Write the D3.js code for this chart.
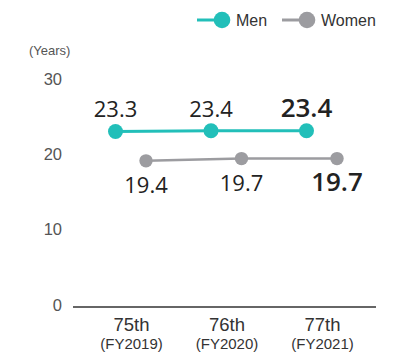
<!DOCTYPE html>
<html>
<head>
<meta charset="utf-8">
<script src="https://cdn.jsdelivr.net/npm/d3@7"></script>
<style>
  html, body { margin: 0; padding: 0; background: #fff; }
  svg { display: block; }
</style>
</head>
<body>
<svg id="chart" width="417" height="356"></svg>
<script>
// Average length of service by fiscal term
const categories = ["75th", "76th", "77th"];
const fiscalYears = ["(FY2019)", "(FY2020)", "(FY2021)"];
const menValues = [23.3, 23.4, 23.4];
const womenValues = [19.4, 19.7, 19.7];
const yTicks = [0, 10, 20, 30];
const seriesNames = ["Men", "Women"];

const colors = { Men: "#22bfb9", Women: "#9c9ca0" };
const svg = d3.select("#chart");
const sans = "'Liberation Sans', Arial, sans-serif";
const valueFont = "'Open Sans', 'Noto Sans', sans-serif";

const x = d3.scalePoint().domain(categories).range([131, 322]);
const y = d3.scaleLinear().domain([0, 30]).range([307, 81]);
const offset = { Men: -15.5, Women: 15 };

// y-axis labels (no axis line)
const yAxis = d3.axisLeft(y).tickValues(yTicks).tickSize(0).tickPadding(0);
const gy = svg.append("g").attr("transform", "translate(62,0)").call(yAxis);
gy.select(".domain").remove();
gy.selectAll("text")
  .attr("font-family", sans).attr("font-size", 16.5).attr("fill", "#555")
  .attr("dy", "0.2em");

svg.append("text").text("(Years)")
  .attr("x", 29).attr("y", 55)
  .attr("font-family", sans).attr("font-size", 13).attr("fill", "#555");

// baseline
svg.append("line")
  .attr("x1", 73).attr("x2", 376).attr("y1", y(0)).attr("y2", y(0))
  .attr("stroke", "#333").attr("stroke-width", 1.5);

// category labels
const xAxis = d3.axisBottom(x).tickSize(0).tickPadding(0);
const gx = svg.append("g").attr("transform", `translate(0,${y(0)})`).call(xAxis);
gx.select(".domain").remove();
gx.selectAll("text").remove();
gx.selectAll(".tick").append("text")
  .attr("text-anchor", "middle").attr("y", 24)
  .attr("font-family", sans).attr("font-size", 18.5).attr("fill", "#333")
  .text(d => d);
gx.selectAll(".tick").append("text")
  .attr("text-anchor", "middle").attr("y", 42)
  .attr("font-family", sans).attr("font-size", 15).attr("fill", "#333")
  .text((d, i) => fiscalYears[i]);

function drawSeries(name, values, stroke, r, labelDy) {
  const pts = values.map((v, i) => ({ c: categories[i], v, i }));
  const line = d3.line().x(d => x(d.c) + offset[name]).y(d => y(d.v));
  svg.append("path").datum(pts)
    .attr("d", line).attr("fill", "none")
    .attr("stroke", colors[name]).attr("stroke-width", stroke);
  svg.selectAll(null).data(pts).enter().append("circle")
    .attr("cx", d => x(d.c) + offset[name]).attr("cy", d => y(d.v))
    .attr("r", r).attr("fill", colors[name]);
  svg.selectAll(null).data(pts).enter().append("text")
    .attr("x", d => x(d.c) + offset[name])
    .attr("y", d => y(d.v) + labelDy)
    .attr("text-anchor", "middle")
    .attr("font-family", valueFont)
    .attr("font-size", d => d.i === pts.length - 1 ? 26 : 22)
    .attr("font-weight", d => d.i === pts.length - 1 ? 600 : 400)
    .attr("fill", "#222")
    .text(d => d.v.toFixed(1));
}

drawSeries("Men", menValues, 3, 7.5, -14);
drawSeries("Women", womenValues, 2.5, 6.7, 32);

// legend
const legendPos = { Men: 197, Women: 282 };
seriesNames.forEach(name => {
  const lx = legendPos[name];
  const g = svg.append("g");
  g.append("line").attr("x1", lx).attr("x2", lx + 20).attr("y1", 20).attr("y2", 20)
    .attr("stroke", colors[name]).attr("stroke-width", 3);
  g.append("circle").attr("cx", lx + 25).attr("cy", 20).attr("r", 8.3).attr("fill", colors[name]);
  g.append("text").text(name).attr("x", lx + 39).attr("y", 25.5)
    .attr("font-family", sans).attr("font-size", 16).attr("fill", "#333");
});
</script>
</body>
</html>
